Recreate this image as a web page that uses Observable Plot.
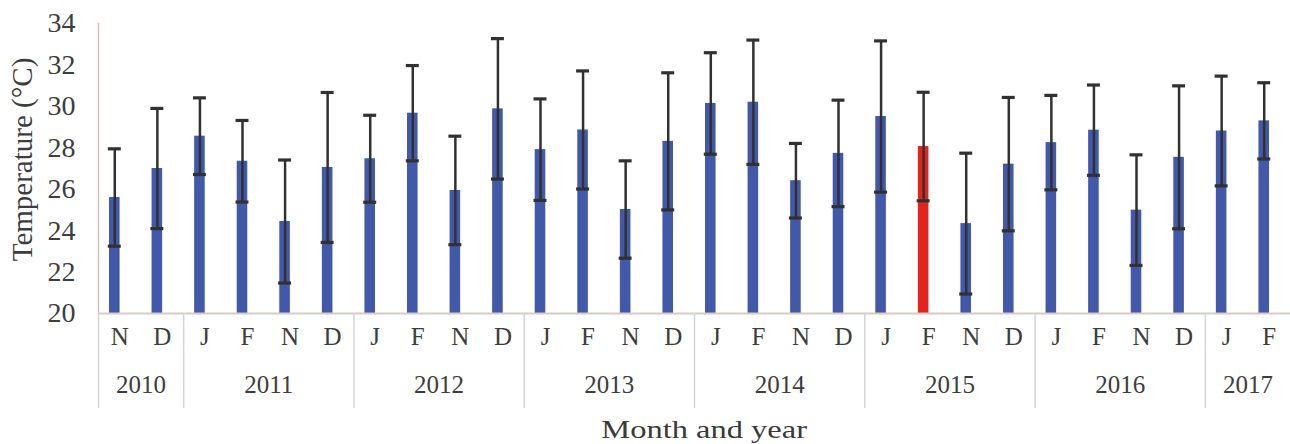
<!DOCTYPE html>
<html>
<head>
<meta charset="utf-8">
<script src="https://cdn.jsdelivr.net/npm/d3@7"></script>
<script src="https://cdn.jsdelivr.net/npm/@observablehq/plot@0.6"></script>
<style>
  html, body { margin: 0; padding: 0; background: #fff; }
  #chart { width: 1290px; }
  #xtitle {
    width: 1290px; height: 26px; line-height: 26px; text-align: center;
    font-family: "Liberation Serif", serif; font-size: 25px; color: #3a3a3a;
    position: relative;
  }
  #xtitle span { display: inline-block; transform: scaleX(1.3); position: relative; left: 59px; top: -1px; }
</style>
</head>
<body>
<div id="chart"></div>
<div id="xtitle"><span>Month and year</span></div>
<script>
const months = ["N","D","J","F","N","D","J","F","N","D","J","F","N","D","J","F","N","D","J","F","N","D","J","F","N","D","J","F"];
const years  = [2010,2010,2011,2011,2011,2011,2012,2012,2012,2012,2013,2013,2013,2013,2014,2014,2014,2014,2015,2015,2015,2015,2016,2016,2016,2016,2017,2017];
const means  = [25.6,27.0,28.56,27.35,24.44,27.05,27.47,29.67,25.94,29.88,27.91,28.86,25.02,28.31,30.14,30.2,26.41,27.73,29.51,28.06,24.34,27.21,28.25,28.85,24.99,27.54,28.81,29.3];
const sds    = [2.35,2.9,1.85,1.97,2.97,3.62,2.1,2.3,2.62,3.39,2.45,2.85,2.35,3.31,2.45,3.0,1.8,2.57,3.65,2.62,3.4,3.22,2.28,2.18,2.67,3.45,2.65,1.84];
const yTicks = [20,22,24,26,28,30,32,34];
const highlight = {year: 2015, month: "F"};

const data = months.map((m, i) => ({i, month: m, year: years[i], mean: means[i], sd: sds[i]}));
const yearList = Array.from(new Set(years));
const groups = yearList.map(y => {
  const idx = data.filter(d => d.year === y).map(d => d.i);
  return {year: y, start: d3.min(idx) - 0.5, center: d3.mean(idx)};
});

const blue = "#4159a8", red = "#e5231b", errc = "#313131";
const barDx = -5;

const chart = Plot.plot({
  width: 1290,
  height: 418,
  marginLeft: 98,
  marginRight: 0,
  marginTop: 23,
  marginBottom: 105,
  style: {fontFamily: "Liberation Serif, serif", fontSize: "25px", color: "#3a3a3a", background: "#fff"},
  x: {domain: [-0.5, 27.5], axis: null},
  y: {domain: [20, 34], axis: null},
  marks: [
    Plot.axisY({ticks: yTicks, tickSize: 0, tickPadding: 23, fontSize: 28, label: null, color: "#3d3d3d"}),
    Plot.text(["Temperature (°C)"], {frameAnchor: "left", textAnchor: "middle", lineAnchor: "middle", rotate: -90, dx: -76, dy: -9, fontSize: 29, fill: "#3d3d3d"}),
    // bars
    Plot.rectY(data, {x1: d => d.i - 0.5, x2: d => d.i + 0.5, y1: 20, y2: "mean",
      fill: d => (d.year === highlight.year && d.month === highlight.month) ? red : blue,
      insetLeft: 16, insetRight: 16, dx: barDx}),
    // error bars
    Plot.ruleX(data, {x: "i", y1: d => d.mean - d.sd, y2: d => d.mean + d.sd, stroke: errc, strokeWidth: 2.5, dx: barDx}),
    Plot.ruleY(data, {y: d => d.mean + d.sd, x1: d => d.i - 0.5, x2: d => d.i + 0.5, insetLeft: 14.8, insetRight: 14.8, stroke: errc, strokeWidth: 3.2, dx: barDx}),
    Plot.ruleY(data, {y: d => d.mean - d.sd, x1: d => d.i - 0.5, x2: d => d.i + 0.5, insetLeft: 14.8, insetRight: 14.8, stroke: errc, strokeWidth: 3.2, dx: barDx}),
    // axes lines
    Plot.ruleY([20], {stroke: "#d6cbc4", strokeWidth: 2}),
    Plot.ruleX([-0.5], {stroke: "#cfc3bb", strokeWidth: 1.5}),
    // group separators below the axis
    Plot.ruleX(groups, {x: "start", stroke: "#d4d4d4", strokeWidth: 1.5, insetTop: 290, insetBottom: -95}),
    // month labels
    Plot.text(data, {x: "i", text: "month", frameAnchor: "bottom", dy: 31.5, fontSize: 25, fill: "#3d3d3d"}),
    // year labels
    Plot.text(groups, {x: "center", text: d => String(d.year), frameAnchor: "bottom", dy: 79, fontSize: 25, fill: "#3d3d3d"})
  ]
});
document.getElementById("chart").appendChild(chart);
</script>
</body>
</html>
